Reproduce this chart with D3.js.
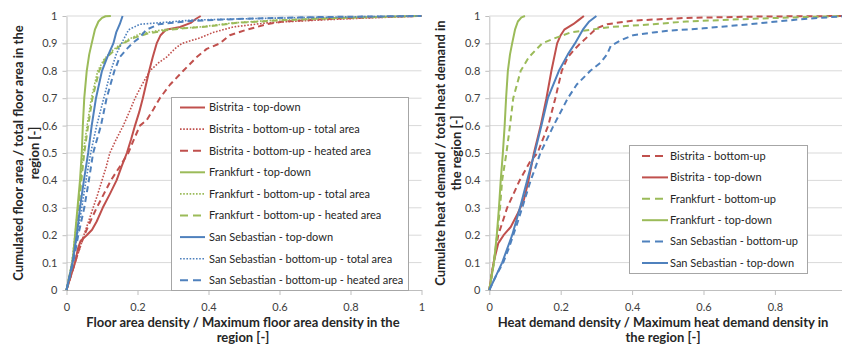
<!DOCTYPE html>
<html><head><meta charset="utf-8">
<script src="https://cdn.jsdelivr.net/npm/d3@7"></script>
<style>
html,body{margin:0;padding:0;background:#fff;}
text{font-family:Lato,"Open Sans",sans-serif;}
</style></head>
<body><svg id="c" width="842" height="344"></svg>
<script>
// ---------- data ----------
const yTicks = [0,0.1,0.2,0.3,0.4,0.5,0.6,0.7,0.8,0.9,1];
const xTicksLeft = [0,0.2,0.4,0.6,0.8,1];
const xTicksRight = [0,0.2,0.4,0.6,0.8];

// Left chart: floor area density
const bistritaTopDown = [[0,0],[0.012,0.05],[0.024,0.1],[0.032,0.15],[0.04,0.18],[0.057,0.2],[0.072,0.22],[0.085,0.25],[0.102,0.3],[0.122,0.35],[0.141,0.4],[0.155,0.45],[0.17,0.5],[0.182,0.55],[0.193,0.6],[0.205,0.65],[0.215,0.7],[0.224,0.75],[0.233,0.8],[0.243,0.85],[0.254,0.9],[0.265,0.93],[0.28,0.95],[0.32,0.96],[0.35,0.975],[0.365,0.99],[0.378,1]];
const bistritaBUTotal = [[0,0],[0.012,0.05],[0.024,0.1],[0.037,0.15],[0.049,0.2],[0.062,0.25],[0.075,0.3],[0.088,0.35],[0.1,0.4],[0.112,0.45],[0.122,0.5],[0.14,0.55],[0.16,0.6],[0.177,0.65],[0.193,0.7],[0.213,0.75],[0.235,0.8],[0.26,0.83],[0.282,0.85],[0.305,0.88],[0.325,0.9],[0.376,0.92],[0.413,0.94],[0.47,0.96],[0.564,0.975],[0.705,0.985],[0.85,0.993],[1,1]];
const bistritaBUHeated = [[0,0],[0.012,0.05],[0.024,0.1],[0.036,0.15],[0.05,0.2],[0.067,0.25],[0.085,0.3],[0.105,0.35],[0.125,0.4],[0.15,0.45],[0.174,0.5],[0.19,0.55],[0.207,0.6],[0.226,0.62],[0.245,0.66],[0.263,0.7],[0.292,0.75],[0.329,0.8],[0.367,0.85],[0.395,0.88],[0.432,0.9],[0.46,0.93],[0.508,0.95],[0.564,0.97],[0.61,0.98],[0.751,0.99],[0.9,0.997],[1,1]];
const frankfurtTopDown = [[0,0],[0.017,0.1],[0.024,0.2],[0.031,0.3],[0.038,0.4],[0.043,0.5],[0.046,0.6],[0.05,0.7],[0.057,0.8],[0.064,0.86],[0.071,0.9],[0.08,0.95],[0.09,0.98],[0.1,0.993],[0.11,0.999],[0.125,1]];
const frankfurtBUTotal = [[0,0],[0.015,0.1],[0.024,0.2],[0.032,0.3],[0.04,0.4],[0.047,0.5],[0.058,0.6],[0.07,0.7],[0.088,0.8],[0.105,0.84],[0.125,0.87],[0.145,0.89],[0.175,0.915],[0.207,0.935],[0.25,0.945],[0.29,0.953],[0.376,0.96],[0.47,0.975],[0.59,0.985],[0.75,0.993],[0.9,0.998],[1,1]];
const frankfurtBUHeated = [[0,0],[0.016,0.1],[0.026,0.2],[0.034,0.3],[0.042,0.4],[0.05,0.5],[0.061,0.6],[0.073,0.7],[0.092,0.8],[0.11,0.845],[0.135,0.875],[0.16,0.9],[0.19,0.92],[0.226,0.935],[0.28,0.948],[0.33,0.955],[0.4,0.962],[0.48,0.975],[0.6,0.984],[0.75,0.992],[0.9,0.997],[1,1]];
const sanSebTopDown = [[0,0],[0.017,0.1],[0.029,0.2],[0.038,0.3],[0.049,0.4],[0.061,0.5],[0.071,0.6],[0.083,0.7],[0.1,0.8],[0.115,0.85],[0.132,0.9],[0.14,0.94],[0.15,0.97],[0.158,1]];
const sanSebBUTotal = [[0,0],[0.017,0.1],[0.03,0.2],[0.043,0.3],[0.055,0.4],[0.068,0.5],[0.085,0.6],[0.105,0.7],[0.125,0.8],[0.14,0.86],[0.155,0.9],[0.175,0.95],[0.207,0.97],[0.26,0.975],[0.35,0.985],[0.5,0.99],[0.7,0.995],[0.9,0.999],[1,1]];
const sanSebBUHeated = [[0,0],[0.019,0.1],[0.033,0.2],[0.05,0.3],[0.063,0.4],[0.075,0.5],[0.097,0.6],[0.113,0.7],[0.135,0.8],[0.15,0.85],[0.17,0.88],[0.185,0.9],[0.205,0.92],[0.225,0.95],[0.26,0.97],[0.35,0.982],[0.5,0.99],[0.7,0.996],[1,1]];

// Right chart: heat demand density
const bistritaBU_R = [[0,0],[0.012,0.1],[0.025,0.2],[0.05,0.3],[0.085,0.4],[0.115,0.47],[0.135,0.5],[0.165,0.6],[0.185,0.7],[0.203,0.8],[0.22,0.85],[0.24,0.88],[0.255,0.9],[0.28,0.93],[0.3,0.955],[0.33,0.97],[0.4,0.983],[0.55,0.993],[0.75,0.998],[1,1]];
const bistritaTD_R = [[0,0],[0.012,0.1],[0.025,0.17],[0.04,0.2],[0.06,0.23],[0.08,0.28],[0.097,0.33],[0.11,0.4],[0.125,0.5],[0.144,0.6],[0.16,0.7],[0.174,0.8],[0.19,0.9],[0.2,0.93],[0.21,0.95],[0.235,0.97],[0.25,0.985],[0.265,1]];
const frankfurtBU_R = [[0,0],[0.013,0.1],[0.022,0.2],[0.03,0.3],[0.036,0.4],[0.048,0.5],[0.058,0.6],[0.067,0.7],[0.088,0.8],[0.111,0.85],[0.148,0.9],[0.186,0.92],[0.228,0.94],[0.284,0.95],[0.34,0.96],[0.459,0.97],[0.553,0.98],[0.739,0.99],[0.9,0.997],[1,1]];
const frankfurtTD_R = [[0,0],[0.013,0.1],[0.021,0.2],[0.027,0.3],[0.032,0.4],[0.038,0.5],[0.043,0.6],[0.047,0.7],[0.052,0.8],[0.058,0.86],[0.064,0.9],[0.072,0.95],[0.08,0.98],[0.09,0.995],[0.1,1]];
const sanSebBU_R = [[0,0],[0.018,0.05],[0.039,0.1],[0.054,0.15],[0.067,0.2],[0.08,0.25],[0.092,0.3],[0.104,0.35],[0.116,0.4],[0.13,0.45],[0.143,0.5],[0.18,0.6],[0.22,0.7],[0.245,0.75],[0.283,0.8],[0.312,0.83],[0.33,0.86],[0.34,0.89],[0.366,0.91],[0.403,0.93],[0.459,0.94],[0.5,0.946],[0.6,0.955],[0.73,0.97],[0.87,0.988],[0.98,0.998],[1,1]];
const sanSebTD_R = [[0,0],[0.018,0.05],[0.036,0.1],[0.05,0.15],[0.064,0.2],[0.075,0.25],[0.086,0.3],[0.096,0.35],[0.106,0.4],[0.116,0.45],[0.127,0.5],[0.146,0.6],[0.164,0.7],[0.195,0.8],[0.22,0.86],[0.24,0.9],[0.262,0.95],[0.28,0.98],[0.3,1]];

const RED="#C0504D", GREEN="#9BBB59", BLUE="#4F81BD";
const SOLID=null, DOT="1.6,1.6", DASH="6,4";

const leftSeries = [
  {name:"Bistrita - top-down", data:bistritaTopDown, color:RED, dash:SOLID},
  {name:"Bistrita - bottom-up - total area", data:bistritaBUTotal, color:RED, dash:DOT},
  {name:"Bistrita - bottom-up - heated area", data:bistritaBUHeated, color:RED, dash:DASH},
  {name:"Frankfurt - top-down", data:frankfurtTopDown, color:GREEN, dash:SOLID},
  {name:"Frankfurt - bottom-up - total area", data:frankfurtBUTotal, color:GREEN, dash:DOT},
  {name:"Frankfurt - bottom-up - heated area", data:frankfurtBUHeated, color:GREEN, dash:DASH},
  {name:"San Sebastian - top-down", data:sanSebTopDown, color:BLUE, dash:SOLID},
  {name:"San Sebastian - bottom-up - total area", data:sanSebBUTotal, color:BLUE, dash:DOT},
  {name:"San Sebastian - bottom-up - heated area", data:sanSebBUHeated, color:BLUE, dash:DASH}
];
const rightSeries = [
  {name:"Bistrita - bottom-up", data:bistritaBU_R, color:RED, dash:DASH},
  {name:"Bistrita - top-down", data:bistritaTD_R, color:RED, dash:SOLID},
  {name:"Frankfurt - bottom-up", data:frankfurtBU_R, color:GREEN, dash:DASH},
  {name:"Frankfurt - top-down", data:frankfurtTD_R, color:GREEN, dash:SOLID},
  {name:"San Sebastian - bottom-up", data:sanSebBU_R, color:BLUE, dash:DASH},
  {name:"San Sebastian - top-down", data:sanSebTD_R, color:BLUE, dash:SOLID}
];

// ---------- drawing ----------
const svg = d3.select("#c");
svg.append("rect").attr("width",842).attr("height",344).attr("fill","#fff");
const y = d3.scaleLinear().domain([0,1]).range([290,16]);
const fmt = d => String(+d.toFixed(1));

function chart(opts){
  const x = d3.scaleLinear().domain([0,1]).range(opts.xr);
  const g = svg.append("g");
  const x1 = Math.min(opts.xr[1], 842);
  g.selectAll("line.grid").data(yTicks.filter(d=>d>0)).join("line")
    .attr("x1",opts.xr[0]).attr("x2",x1).attr("y1",d=>y(d)).attr("y2",d=>y(d))
    .attr("stroke","#D9D9D9").attr("stroke-width",1);
  const ya = g.append("g").attr("transform",`translate(${opts.xr[0]},0)`)
    .call(d3.axisLeft(y).tickValues(yTicks).tickFormat(fmt).tickSize(4).tickPadding(5).tickSizeOuter(0));
  const xa = g.append("g").attr("transform",`translate(0,${y(0)})`)
    .call(d3.axisBottom(x).tickValues(opts.xTicks).tickFormat(fmt).tickSize(5).tickPadding(8).tickSizeOuter(0));
  [ya,xa].forEach(a=>{
    a.select(".domain").attr("stroke","#BFBFBF");
    a.selectAll(".tick line").attr("stroke","#BFBFBF");
    a.selectAll("text").attr("fill","#404040").style("font-size","11px").style("font-family","Lato,sans-serif");
  });
  const line = d3.line().x(d=>x(d[0])).y(d=>y(d[1]));
  const cg = g.append("g");
  opts.series.forEach(s=>{
    cg.append("path").attr("d",line(s.data)).attr("fill","none")
      .attr("stroke",s.color).attr("stroke-width", s.dash===DOT?1.6:2)
      .attr("stroke-dasharray",s.dash).attr("stroke-linejoin","round");
  });
  const L = opts.legend;
  const lg = g.append("g");
  lg.append("rect").attr("x",L.x).attr("y",L.y).attr("width",L.w).attr("height",L.h)
    .attr("fill","#fff").attr("stroke","#A6A6A6").attr("stroke-width",1);
  opts.series.forEach((s,i)=>{
    const yy = L.y0 + i*L.dy;
    lg.append("line").attr("x1",L.lx0).attr("x2",L.lx1).attr("y1",yy).attr("y2",yy)
      .attr("stroke",s.color).attr("stroke-width", s.dash===DOT?1.6:2)
      .attr("stroke-dasharray", s.dash===DASH? "8,5" : s.dash);
    lg.append("text").attr("x",L.tx).attr("y",yy).attr("dy","0.35em")
      .attr("fill","#262626").style("font-size","11px").text(s.name);
  });
  const xt = g.append("text").attr("text-anchor","middle").attr("fill","#262626")
    .style("font-size","13px").style("font-weight","bold");
  xt.append("tspan").attr("x",opts.xTitleX).attr("y",327).text(opts.xTitle[0]);
  xt.append("tspan").attr("x",opts.xTitleX).attr("y",342).text(opts.xTitle[1]);
  const yt = g.append("text").attr("text-anchor","middle").attr("fill","#262626")
    .style("font-size","13px").style("font-weight","bold")
    .attr("transform",`translate(${opts.yTitleX},153) rotate(-90)`);
  yt.append("tspan").attr("x",0).attr("y",0).text(opts.yTitle[0]);
  yt.append("tspan").attr("x",0).attr("y",16).text(opts.yTitle[1]);
}

chart({
  xr:[66.5,421.5], series:leftSeries, xTicks:xTicksLeft,
  legend:{x:171.5,y:97.5,w:237,h:193,y0:107.5,dy:21.6,lx0:180,lx1:205,tx:209},
  xTitle:["Floor area density / Maximum floor area density in the","region [-]"], xTitleX:243,
  yTitle:["Cumulated floor area / total floor area in the","region [-]"], yTitleX:23
});
chart({
  xr:[489.3,846.3], series:rightSeries, xTicks:xTicksRight,
  legend:{x:629.5,y:145.5,w:178,h:128,y0:156,dy:21.4,lx0:642,lx1:668,tx:670},
  xTitle:["Heat demand density / Maximum heat demand density in","the region [-]"], xTitleX:663,
  yTitle:["Cumulate heat demand / total heat demand in","the region [-]"], yTitleX:445
});
</script></body></html>
